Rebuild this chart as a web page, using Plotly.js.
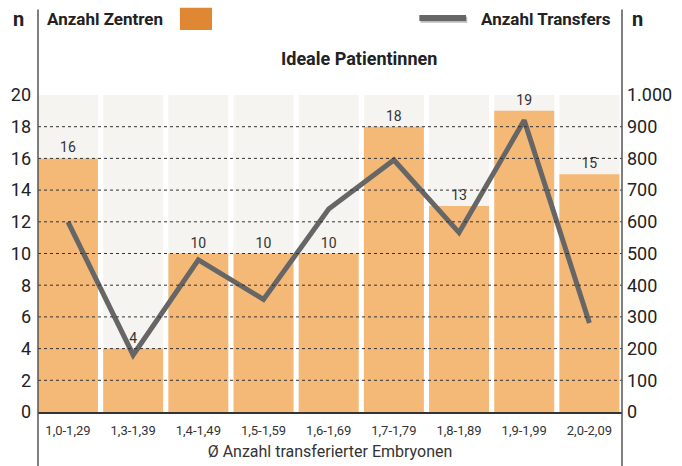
<!DOCTYPE html>
<html>
<head>
<meta charset="utf-8">
<script src="https://cdn.plot.ly/plotly-3.0.1.min.js"></script>
<style>html,body{margin:0;padding:0;background:#fff;}#chart{width:682px;height:466px;}</style>
</head>
<body>
<div id="chart"></div>
<script>
// Data
const categories = ["1,0-1,29","1,3-1,39","1,4-1,49","1,5-1,59","1,6-1,69","1,7-1,79","1,8-1,89","1,9-1,99","2,0-2,09"];
const zentren = [16, 4, 10, 10, 10, 18, 13, 19, 15];
const transfers = [600, 180, 480, 355, 640, 795, 566, 920, 281];
const leftTicks = [0, 2, 4, 6, 8, 10, 12, 14, 16, 18, 20];
const rightTicks = [0, 100, 200, 300, 400, 500, 600, 700, 800, 900, 1000];
const leftMax = 20, rightMax = 1000;

const FONT = "Roboto, 'Open Sans', sans-serif";
const bgCols = categories.map(() => leftMax);

const traces = [
  { type: 'bar', x: categories, y: bgCols, marker: {color: '#F5F4F0'}, hoverinfo: 'skip', showlegend: false },
  { type: 'bar', x: categories, y: zentren, marker: {color: '#F4B877'}, text: zentren.map(String),
    textposition: 'outside', cliponaxis: false, textfont: {family: FONT, size: 14, color: '#333'}, showlegend: false },
  { type: 'scatter', mode: 'lines', x: categories, y: transfers, yaxis: 'y2',
    line: {color: '#666666', width: 5}, showlegend: false }
];

const shapes = leftTicks.filter(v => v > 0 && v < leftMax).map(v => ({
  type: 'line', xref: 'paper', yref: 'y', x0: 0, x1: 1, y0: v, y1: v,
  line: {color: '#333', width: 1, dash: 'dot'}, layer: 'above'
}));
shapes.push(
  {type: 'line', xref: 'paper', yref: 'paper', x0: 0, x1: 0, y0: -0.17, y1: 1.27, line: {color: '#555', width: 1.5}},
  {type: 'line', xref: 'paper', yref: 'paper', x0: 1, x1: 1, y0: -0.17, y1: 1.27, line: {color: '#555', width: 1.5}},
  {type: 'rect', xref: 'paper', yref: 'paper', x0: 0.243, x1: 0.298, y0: 1.205, y1: 1.275, fillcolor: '#E08734', line: {width: 0}},
  {type: 'line', xref: 'paper', yref: 'paper', x0: 0.655, x1: 0.735, y0: 1.237, y1: 1.237, line: {color: '#BBBBBB', width: 6}},
  {type: 'line', xref: 'paper', yref: 'paper', x0: 0.653, x1: 0.733, y0: 1.243, y1: 1.243, line: {color: '#666666', width: 6}}
);

const boldFont = {family: FONT, size: 17, color: '#222', weight: 'bold'};
const annotations = [
  {xref: 'paper', yref: 'paper', x: -0.034, y: 1.24, text: 'n', showarrow: false, xanchor: 'center', yanchor: 'middle', font: {family: FONT, size: 20, color: '#222', weight: 'bold'}},
  {xref: 'paper', yref: 'paper', x: 1.027, y: 1.24, text: 'n', showarrow: false, xanchor: 'center', yanchor: 'middle', font: {family: FONT, size: 20, color: '#222', weight: 'bold'}},
  {xref: 'paper', yref: 'paper', x: 0.012, y: 1.24, text: 'Anzahl Zentren', showarrow: false, xanchor: 'left', yanchor: 'middle', font: boldFont},
  {xref: 'paper', yref: 'paper', x: 0.985, y: 1.24, text: 'Anzahl Transfers', showarrow: false, xanchor: 'right', yanchor: 'middle', font: boldFont},
  {xref: 'paper', yref: 'paper', x: 0.55, y: 1.115, text: 'Ideale Patientinnen', showarrow: false, xanchor: 'center', yanchor: 'middle', font: {family: FONT, size: 18, color: '#222', weight: 'bold'}}
];

const layout = {
  width: 682, height: 466,
  margin: {l: 38, r: 60, t: 95, b: 54},
  paper_bgcolor: '#fff', plot_bgcolor: '#fff',
  separators: ',.',
  barmode: 'overlay', bargap: 0.08,
  showlegend: false,
  xaxis: {type: 'category', range: [-0.46, 8.5], showgrid: false, zeroline: false,
    showline: true, linecolor: '#333', linewidth: 1.5, ticks: '',
    tickfont: {family: FONT, size: 13, color: '#333'}, ticklabelstandoff: 6,
    title: {text: 'Ø Anzahl transferierter Embryonen', font: {family: FONT, size: 16, color: '#333'}, standoff: 8}},
  yaxis: {range: [0, leftMax], tickvals: leftTicks, showgrid: false, zeroline: false, showline: false, ticks: '',
    tickfont: {family: FONT, size: 18, color: '#222'}, ticklabelstandoff: 6, fixedrange: true},
  yaxis2: {range: [0, rightMax], tickvals: rightTicks, tickformat: ',d', overlaying: 'y', side: 'right',
    showgrid: false, zeroline: false, showline: false, ticks: '',
    tickfont: {family: FONT, size: 18, color: '#222'}, ticklabelstandoff: 4},
  shapes: shapes,
  annotations: annotations
};

Plotly.newPlot('chart', traces, layout, {displayModeBar: false, staticPlot: true});
</script>
</body>
</html>
